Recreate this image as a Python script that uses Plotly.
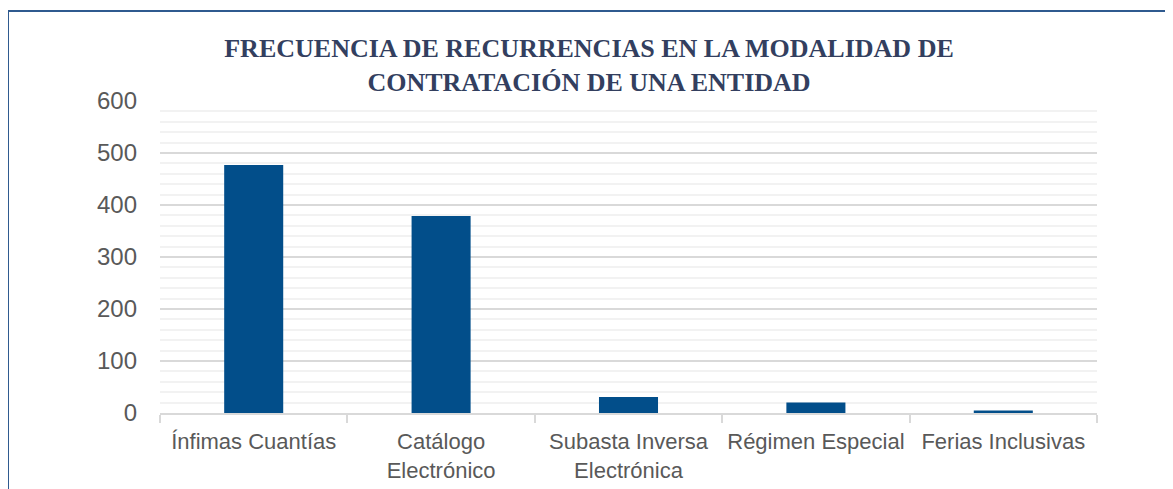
import plotly.graph_objects as go

categories = ["Ínfimas Cuantías", "Catálogo<br>Electrónico", "Subasta Inversa<br>Electrónica",
              "Régimen Especial", "Ferias Inclusivas"]
values = [477, 379, 31, 20, 5]
y_ticks = [0, 100, 200, 300, 400, 500, 600]
title_text = "FRECUENCIA DE RECURRENCIAS EN LA MODALIDAD DE<br>CONTRATACIÓN DE UNA ENTIDAD"

OFF = 8  # page body offset
W, H = 1173, 489
L, T = 160 - OFF, 101 - OFF
R, B = W - (1097 - OFF), H - (413 - OFF)
pw, ph = W - L - R, H - T - B

fig = go.Figure(go.Bar(x=categories, y=values, marker=dict(color="#024E8A", line=dict(width=0)),
                       hoverinfo="x+y"))

fig.update_layout(
    width=W, height=H,
    margin=dict(l=L, r=R, t=T, b=B),
    paper_bgcolor="white", plot_bgcolor="white",
    bargap=0.685,
    showlegend=False,
    title=dict(text="<b>" + title_text + "</b>", x=(589 - OFF) / W, xanchor="center",
               y=1 - (65 - 2 * OFF) / H, yanchor="middle",
               font=dict(family="Liberation Serif, DejaVu Serif, serif", size=26, color="#333F5F")),
    font=dict(family="Liberation Sans, Arial, sans-serif", color="#595959"),
)

fig.update_yaxes(range=[0, 600], tickvals=y_ticks, showgrid=True, gridcolor="#D9D9D9", gridwidth=1.5,
                 zeroline=False, showline=False, ticks="",
                 tickfont=dict(family="Liberation Sans, Arial, sans-serif", size=24, color="#595959"),
                 ticklabelstandoff=22,
                 minor=dict(dtick=20, showgrid=True, gridcolor="#F2F2F2", gridwidth=1.5))
fig.update_xaxes(showline=True, linecolor="#D9D9D9", linewidth=1.5, ticks="outside", tickson="boundaries",
                 ticklen=8, tickcolor="#D9D9D9", tickwidth=1.5, showgrid=False,
                 ticklabelstandoff=8,
                 tickfont=dict(size=22, color="#595959"), tickangle=0)

# outer border lines (top and left), in paper coordinates
x0 = (8 - OFF - L) / pw
y0 = 1 + (T - (11 - OFF)) / ph
fig.add_shape(type="line", xref="paper", yref="paper", x0=x0, x1=1.3, y0=y0, y1=y0,
              line=dict(color="#2F5A8F", width=2))
fig.add_shape(type="line", xref="paper", yref="paper", x0=x0, x1=x0, y0=y0, y1=-0.5,
              line=dict(color="#2F5A8F", width=2))

fig.write_html("out.html")
